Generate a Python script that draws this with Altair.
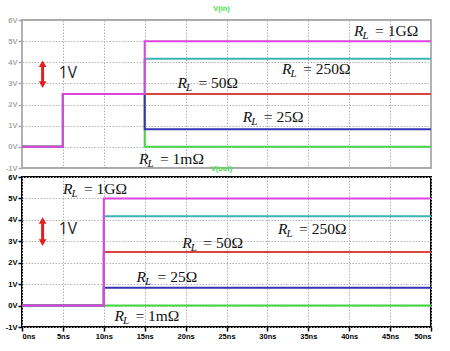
import altair as alt
import pandas as pd

# ---- data ----
series_names = ["1m", "25", "50", "250", "1G"]          # draw order (bottom -> top)
series_colors = ["#44d844", "#3434b4", "#d84444", "#3cb4b4", "#dc44dc"]

vin_t = [0, 5, 5, 15, 15, 50]
vin_v = {
    "1m":  [0, 0, 2.5, 2.5, 0.0, 0.0],
    "25":  [0, 0, 2.5, 2.5, 0.83, 0.83],
    "50":  [0, 0, 2.5, 2.5, 2.5, 2.5],
    "250": [0, 0, 2.5, 2.5, 4.17, 4.17],
    "1G":  [0, 0, 2.5, 2.5, 5.0, 5.0],
}
vout_t = [0, 10, 10, 50]
vout_v = {
    "1m":  [0, 0, 0.0, 0.0],
    "25":  [0, 0, 0.83, 0.83],
    "50":  [0, 0, 2.5, 2.5],
    "250": [0, 0, 4.17, 4.17],
    "1G":  [0, 0, 5.0, 5.0],
}

label_rest = ["= 1GΩ", "= 250Ω", "= 50Ω", "= 25Ω", "= 1mΩ"]
top_lbl_t = [40.6, 31.8, 19.0, 27.0, 14.3]
top_lbl_v = [5.26, 3.46, 2.80, 1.18, -0.81]
bot_lbl_t = [5.0, 31.3, 19.6, 14.0, 11.3]
bot_lbl_v = [5.19, 3.36, 2.71, 1.09, -0.70]

onev_t = [4.5, 4.5]
onev_v = [3.27, 3.36]
arrow_t = 2.52
arrow_top = [3.93, 3.97]
arrow_bot = [2.94, 2.94]

x_ticks = [0, 5, 10, 15, 20, 25, 30, 35, 40, 45, 50]
y_ticks = [-1, 0, 1, 2, 3, 4, 5, 6]

W = 409


def panel(t, vals, lbl_t, lbl_v, onev, a_top, a_bot, top, title, title_offset, h):
    axis_col = "#a8a8a8" if top else "#000000"
    xaxis = alt.Axis(values=x_ticks, title=None, grid=True, gridColor="#b4b4b4",
                     gridDash=[1.5, 1.5], gridWidth=1, domain=False,
                     labels=not top, ticks=not top, tickColor="#000000", tickSize=4,
                     tickWidth=1.5, labelExpr="datum.value + 'ns'", labelFontSize=7.5,
                     labelFontWeight="bold", labelColor="#000000", labelPadding=1,
                     labelFont="Liberation Sans")
    yaxis = alt.Axis(values=y_ticks, title=None, grid=True, gridColor="#b4b4b4",
                     gridDash=[1.5, 1.5], gridWidth=1, domain=False, ticks=True,
                     tickColor=axis_col, tickSize=4, tickWidth=1.5,
                     labelExpr="datum.value + 'V'", labelFontSize=7.5,
                     labelFontWeight="bold", labelColor=axis_col, labelPadding=1,
                     labelFont="Liberation Sans")
    X = alt.X("t:Q", scale=alt.Scale(domain=[0, 50], nice=False, zero=False), axis=xaxis)
    Y = alt.Y("v:Q", scale=alt.Scale(domain=[-1, 6], nice=False, zero=False), axis=yaxis)

    layers = []
    for name, col in zip(series_names, series_colors):
        df = pd.DataFrame({"t": t, "v": vals[name], "i": list(range(len(t)))})
        layers.append(alt.Chart(df).mark_line(color=col, strokeWidth=2, clip=True)
                      .encode(x=X, y=Y, order="i:Q"))

    ldf = pd.DataFrame({"t": lbl_t, "v": lbl_v, "rest": label_rest})
    base = alt.Chart(ldf)
    layers.append(base.mark_text(text="R", font="Liberation Serif", fontStyle="italic",
                                 fontSize=15.5, align="left", baseline="alphabetic",
                                 color="#111111").encode(x=X, y=Y))
    layers.append(base.mark_text(text="L", font="Liberation Serif", fontStyle="italic",
                                 fontSize=11, align="left", baseline="alphabetic",
                                 dx=8.5, dy=3, color="#111111").encode(x=X, y=Y))
    layers.append(base.mark_text(font="Liberation Serif", fontSize=15.5, align="left",
                                 baseline="alphabetic", dx=21, color="#111111")
                  .encode(x=X, y=Y, text="rest:N"))

    odf = pd.DataFrame({"t": [onev[0]], "v": [onev[1]]})
    layers.append(alt.Chart(odf).mark_text(text="1V", font="Open Sans", fontSize=15.5,
                                           align="left", baseline="alphabetic",
                                           color="#222222").encode(x=X, y=Y))

    adf = pd.DataFrame({"t": [arrow_t], "v": [a_top], "v2": [a_bot]})
    layers.append(alt.Chart(adf).mark_rule(color="#e02020", strokeWidth=3)
                  .encode(x=X, y=Y, y2="v2:Q"))
    tdf = pd.DataFrame({"t": [arrow_t, arrow_t], "v": [a_top, a_bot],
                        "s": ["triangle-up", "triangle-down"]})
    layers.append(alt.Chart(tdf).mark_point(filled=True, color="#e02020", size=60,
                                            opacity=1)
                  .encode(x=X, y=Y, shape=alt.Shape("s:N", scale=None)))

    return alt.layer(*layers).properties(
        width=W, height=h,
        title=alt.TitleParams(title, color="#44e044", fontSize=7.5, fontWeight="bold",
                              font="Liberation Sans", offset=title_offset, anchor="middle",
                              dx=-5),
        view=alt.ViewBackground(stroke=axis_col, strokeWidth=2 if not top else 1.8),
    )


top = panel(vin_t, vin_v, top_lbl_t, top_lbl_v, (onev_t[0], onev_v[0]),
            arrow_top[0], arrow_bot[0], True, "V(in)", 4, 148)
bot = panel(vout_t, vout_v, bot_lbl_t, bot_lbl_v, (onev_t[1], onev_v[1]),
            arrow_top[1], arrow_bot[1], False, "V(out)", 1, 150)

chart = alt.vconcat(top, bot, spacing=9, bounds="flush").properties(
    padding={"left": 4, "top": 3, "right": 10, "bottom": 5},
    background="white",
).configure_view(strokeOpacity=1)

chart.save("out.html", embed_options={"renderer": "svg", "actions": False})
